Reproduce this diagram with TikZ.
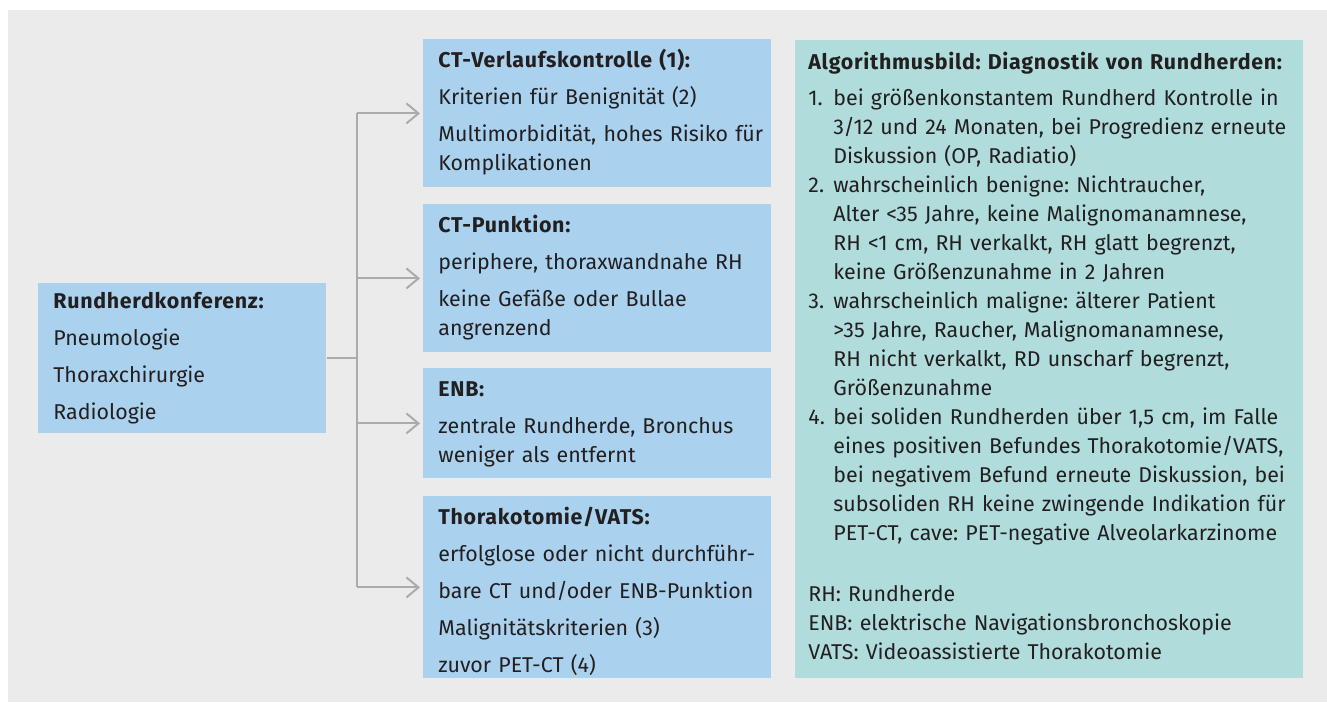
\documentclass[tikz,border=0pt]{standalone}
\usepackage{fontspec}
\setmainfont{Fira Sans}[BoldFeatures={LetterSpace=3.3}]
\usepackage{xcolor}
\usepackage{tikz}
\usetikzlibrary{calc}
\usetikzlibrary{arrows.meta}
\frenchspacing

\definecolor{bggray}{HTML}{EAEBEA}
\definecolor{boxblue}{HTML}{AAD2EF}
\definecolor{boxteal}{HTML}{B0DDDC}
\definecolor{linegray}{HTML}{ABABAB}
\definecolor{textdark}{HTML}{231F20}

\newcommand{\rhnum}[1]{\makebox[12.5pt][l]{#1}}
\newcommand{\rhcont}{\hspace*{12.5pt}}

\tikzset{
	txt/.style={text=textdark, align=left, font=\fontsize{10.7pt}{14.5pt}\selectfont},
	bluebox/.style={txt, fill=boxblue, anchor=north west, inner xsep=7.5pt, inner ysep=0pt, text width=159pt},
	tealbox/.style={txt, fill=boxteal, anchor=north west, inner xsep=6.5pt, inner ysep=0pt, text width=241pt},
	conn/.style={linegray, line width=1pt},
	tip/.style={-{Straight Barb[length=6pt,width=10pt,line width=1pt]}, shorten >=1.5pt}
}

\begin{document}
\begin{tikzpicture}[x=0.5pt,y=-0.5pt]
	\useasboundingbox (0,0) rectangle (1327,702);
	\fill[bggray] (8,10) rectangle (1327,702);
	\node[bluebox, text width=129pt, minimum height=75pt] (konf) at (38,283) {\begin{tabular}{@{}l@{}}
		\textbf{Rundherdkonferenz:}\\[4pt]
		Pneumologie\\[4pt]
		Thoraxchirurgie\\[4pt]
		Radiologie
		\end{tabular}};
	\node[bluebox, minimum height=74pt] (verlauf) at (423,39) {\begin{tabular}{@{}l@{}}
		\textbf{CT-Verlaufskontrolle (1):}\\[4pt]
		Kriterien für Benignität (2)\\[4pt]
		Multimorbidität, hohes Risiko für\\
		Komplikationen
		\end{tabular}};
	\node[bluebox, minimum height=74pt] (punktion) at (423,204) {\begin{tabular}{@{}l@{}}
		\textbf{CT-Punktion:}\\[4pt]
		periphere, thoraxwandnahe RH\\[4pt]
		keine Gefäße oder Bullae\\
		angrenzend
		\end{tabular}};
	\node[bluebox, minimum height=55pt] (enb) at (423,368) {\begin{tabular}{@{}l@{}}
		\textbf{ENB:}\\[4pt]
		zentrale Rundherde, Bronchus\\
		weniger als entfernt
		\end{tabular}};
	\node[bluebox, minimum height=91pt] (thorako) at (423,496) {\raisebox{-2.5pt}[\height][\depth]{\begin{tabular}{@{}l@{}}
		\textbf{Thorakotomie/VATS:}\\[4pt]
		erfolglose oder nicht durchführ-\\[4pt]
		bare CT und/oder ENB-Punktion\\[4pt]
		Malignitätskriterien (3)\\[4pt]
		zuvor PET-CT (4)
		\end{tabular}}};
	\node[tealbox, minimum height=319pt] (algo) at (795,40) {\begin{tabular}{@{}l@{}}
		\textbf{Algorithmusbild: Diagnostik von Rundherden:}\\[3.5pt]
		\rhnum{1.}bei größenkonstantem Rundherd Kontrolle in\\
		\rhcont 3/12 und 24 Monaten, bei Progredienz erneute\\
		\rhcont Diskussion (OP, Radiatio)\\
		\rhnum{2.}wahrscheinlich benigne: Nichtraucher,\\
		\rhcont Alter <35 Jahre, keine Malignomanamnese,\\
		\rhcont RH <1 cm, RH verkalkt, RH glatt begrenzt,\\
		\rhcont keine Größenzunahme in 2 Jahren\\
		\rhnum{3.}wahrscheinlich maligne: älterer Patient\\
		\rhcont >35 Jahre, Raucher, Malignomanamnese,\\
		\rhcont RH nicht verkalkt, RD unscharf begrenzt,\\
		\rhcont Größenzunahme\\
		\rhnum{4.}bei soliden Rundherden über 1,5 cm, im Falle\\
		\rhcont eines positiven Befundes Thorakotomie/VATS,\\
		\rhcont bei negativem Befund erneute Diskussion, bei\\
		\rhcont subsoliden RH keine zwingende Indikation für\\
		\rhcont PET-CT, cave: PET-negative Alveolarkarzinome\\[16pt]
		RH: Rundherde\\
		ENB: elektrische Navigationsbronchoskopie\\
		VATS: Videoassistierte Thorakotomie\\[1pt]
		\end{tabular}};
	\coordinate (spine) at (357,359);
	\draw[conn] (konf.east) -- (konf.east -| spine);
	\draw[conn] (spine |- verlauf.west) -- (spine |- thorako.west);
	\foreach \b in {verlauf,punktion,enb,thorako}
		\draw[conn,tip] (spine |- \b.west) -- (\b.west);
\end{tikzpicture}
\end{document}
